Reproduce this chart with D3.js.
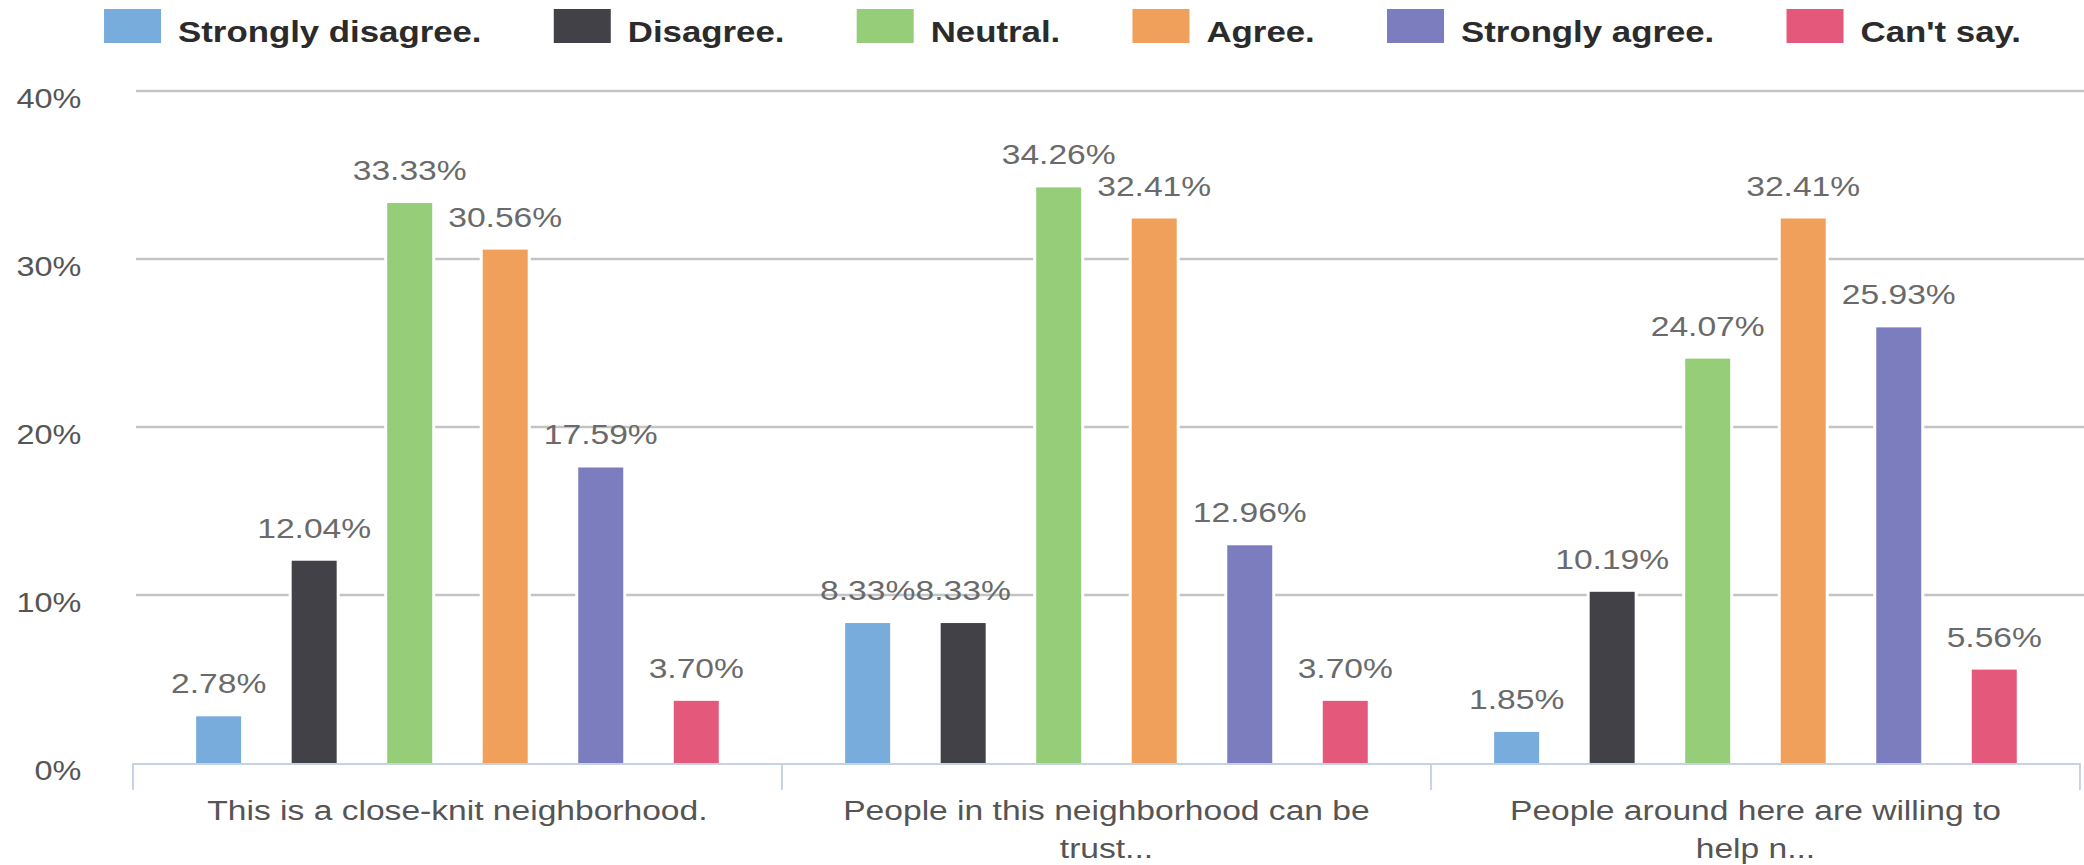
<!DOCTYPE html>
<html>
<head>
<meta charset="utf-8">
<script src="https://cdn.jsdelivr.net/npm/d3@7/dist/d3.min.js"></script>
<style>
  html, body { margin: 0; padding: 0; background: #ffffff; }
  svg { display: block; }
  text { font-family: "Liberation Sans", Arial, sans-serif; }
</style>
</head>
<body>
<svg id="chart"></svg>
<script>
// Survey responses, percent of respondents per statement
const categories = [
  "This is a close-knit neighborhood.",
  "People in this neighborhood can be\ntrust...",
  "People around here are willing to\nhelp n..."
];
const seriesNames = ["Strongly disagree.", "Disagree.", "Neutral.", "Agree.", "Strongly agree.", "Can't say."];
const seriesColors = ["#78acdc", "#414147", "#95cd78", "#f0a05a", "#7b7dbf", "#e4587b"];

const stronglyDisagree = [2.78, 8.33, 1.85];
const disagree         = [12.04, 8.33, 10.19];
const neutral          = [33.33, 34.26, 24.07];
const agree            = [30.56, 32.41, 32.41];
const stronglyAgree    = [17.59, 12.96, 25.93];
const cantSay          = [3.70, 3.70, 5.56];
const seriesValues = [stronglyDisagree, disagree, neutral, agree, stronglyAgree, cantSay];

const yTicks = [0, 10, 20, 30, 40];

// The drawing is laid out in a narrower coordinate space and stretched
// horizontally to the full page width.
const pageW = 2084, pageH = 865, stretch = 1.2;
const W = pageW / stretch;

const svg = d3.select("#chart")
  .attr("width", pageW).attr("height", pageH)
  .attr("viewBox", `0 0 ${W} ${pageH}`)
  .attr("preserveAspectRatio", "none");

const plotLeft = 110.8, plotRight = 1733.3;
const y = d3.scaleLinear().domain([0, 40]).range([763, 91]);
const x0 = d3.scaleBand().domain(categories).range([plotLeft, plotRight]).padding(0);
const x1 = d3.scaleBand().domain(seriesNames).range([0, x0.bandwidth()])
  .paddingInner(0.529).paddingOuter(0.6615);

// Horizontal gridlines
svg.append("g").selectAll("line")
  .data(yTicks.filter(t => t > 0))
  .join("line")
  .attr("x1", 113.3).attr("x2", W)
  .attr("y1", d => y(d)).attr("y2", d => y(d))
  .attr("stroke", "#c4c4c4").attr("stroke-width", 2.6);

// Y axis labels
const yAxis = svg.append("g")
  .attr("transform", `translate(${plotLeft},0)`)
  .call(d3.axisLeft(y).tickValues(yTicks).tickFormat(d => d + "%").tickSize(0).tickPadding(43));
yAxis.select(".domain").remove();
yAxis.selectAll("text")
  .attr("font-size", 27)
  .attr("fill", "#555555")
  .attr("dy", "0.6em")
  .style("font-family", '"Liberation Sans", Arial, sans-serif');

// Bars, with a thin white halo separating them from the gridlines
const groups = svg.append("g").selectAll("g")
  .data(categories)
  .join("g")
  .attr("transform", d => `translate(${x0(d)},0)`);

const cells = groups.selectAll("g")
  .data((c, ci) => seriesNames.map((s, si) => ({ series: s, si, value: seriesValues[si][ci] })))
  .join("g");

cells.append("rect")
  .attr("x", d => x1(d.series) - 2.5)
  .attr("width", x1.bandwidth() + 5)
  .attr("y", d => y(d.value) - 2)
  .attr("height", d => y(0) - y(d.value) + 1)
  .attr("fill", "#ffffff");

cells.append("rect")
  .attr("x", d => x1(d.series))
  .attr("width", x1.bandwidth())
  .attr("y", d => y(d.value))
  .attr("height", d => y(0) - y(d.value))
  .attr("fill", d => seriesColors[d.si]);

cells.append("text")
  .attr("x", d => x1(d.series) + x1.bandwidth() / 2)
  .attr("y", d => y(d.value) - 23)
  .attr("text-anchor", "middle")
  .attr("font-size", 28)
  .attr("fill", "#6a6a6a")
  .text(d => d.value.toFixed(2) + "%");

// Baseline and category separators
svg.append("line")
  .attr("x1", plotLeft).attr("x2", plotRight)
  .attr("y1", y(0) + 1).attr("y2", y(0) + 1)
  .attr("stroke", "#c3d3e3").attr("stroke-width", 2);

const edges = categories.map(c => x0(c)).concat([plotRight]);
svg.append("g").selectAll("line")
  .data(edges)
  .join("line")
  .attr("x1", d => d).attr("x2", d => d)
  .attr("y1", y(0)).attr("y2", y(0) + 27)
  .attr("stroke", "#c3d3e3").attr("stroke-width", 1.6);

// Category labels
const catLabels = svg.append("g").selectAll("text")
  .data(categories)
  .join("text")
  .attr("x", d => x0(d) + x0.bandwidth() / 2)
  .attr("y", 820)
  .attr("text-anchor", "middle")
  .attr("font-size", 28)
  .attr("fill", "#555555");
catLabels.selectAll("tspan")
  .data(d => d.split("\n").map((line, i) => ({ line, i, x: x0(d) + x0.bandwidth() / 2 })))
  .join("tspan")
  .attr("x", d => d.x)
  .attr("dy", d => d.i === 0 ? 0 : 38)
  .text(d => d.line);

// Legend
const legend = svg.append("g");
let lx = 86.7;
seriesNames.forEach((name, i) => {
  const item = legend.append("g");
  item.append("rect")
    .attr("x", lx).attr("y", 9)
    .attr("width", 47.5).attr("height", 34)
    .attr("fill", seriesColors[i]);
  const t = item.append("text")
    .attr("x", lx + 61.7).attr("y", 42)
    .attr("font-size", 29)
    .attr("font-weight", "bold")
    .attr("fill", "#2b2b2b")
    .text(name);
  lx += 61.7 + t.node().getComputedTextLength() + 60.2;
});
</script>
</body>
</html>
